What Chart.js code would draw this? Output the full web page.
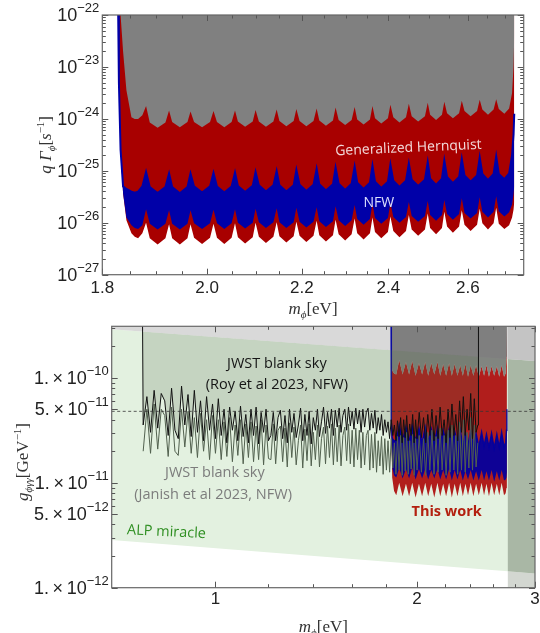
<!DOCTYPE html>
<html>
<head>
<meta charset="utf-8">
<script src="https://cdn.jsdelivr.net/npm/chart.js@4.4.1/dist/chart.umd.min.js"></script>
<style>
    body { margin: 0; background: #fff; }
    #wrap { position: relative; width: 540px; height: 633px; overflow: hidden; }
    canvas { position: absolute; left: 0; }
    #decayChart { top: 0; }
    #couplingChart { top: 312px; }
</style>
</head>
<body>
<div id="wrap">
    <canvas id="decayChart" width="540" height="325"></canvas>
    <canvas id="couplingChart" width="540" height="321"></canvas>
</div>
<script>
// ---- Upper panel: q*Gamma bounds (log10 values), masses in eV ----
const decayMass = [
    1.829, 1.8303, 1.8334, 1.838, 1.8442, 1.8535, 1.8597, 1.866, 1.874,
    1.881, 1.888, 1.903, 1.918,  1.925, 1.931, 1.946, 1.961,  1.967, 1.974, 1.990, 2.006,
    2.013, 2.020, 2.035, 2.050,  2.057, 2.063, 2.078, 2.094,  2.100, 2.107, 2.122, 2.138,
    2.145, 2.151, 2.166, 2.182,  2.188, 2.195, 2.210, 2.226,  2.233, 2.239, 2.254, 2.270,
    2.276, 2.283, 2.298, 2.313,  2.320, 2.326, 2.341, 2.356,  2.362, 2.368, 2.383, 2.399,
    2.405, 2.412, 2.427, 2.443,  2.450, 2.457, 2.473, 2.490,  2.497, 2.503, 2.518, 2.533,
    2.539, 2.546, 2.561, 2.577,  2.584, 2.591, 2.607, 2.624,  2.631, 2.638, 2.653, 2.668,
    2.675,
    2.682, 2.697, 2.710, 2.718, 2.722, 2.724
];
const decayGrayEdge = [
    -22.0, -22.0, -22.0, -22.7, -23.45, -23.97, -24.0, -24.0, -23.93,
    -23.75, -24.07, -24.17, -24.07,  -23.84, -24.06, -24.16, -24.06,  -23.86, -24.06, -24.16, -24.06,
    -23.85, -24.06, -24.16, -24.06,  -23.84, -24.05, -24.15, -24.05,  -23.83, -24.05, -24.15, -24.05,
    -23.82, -24.04, -24.14, -24.04,  -23.81, -24.04, -24.14, -24.04,  -23.80, -24.03, -24.13, -24.03,
    -23.78, -24.02, -24.12, -24.02,  -23.77, -24.01, -24.11, -24.01,  -23.75, -23.99, -24.09, -23.99,
    -23.73, -23.97, -24.07, -23.97,  -23.71, -23.95, -24.05, -23.95,  -23.69, -23.92, -24.02, -23.92,
    -23.67, -23.89, -23.99, -23.89,  -23.65, -23.85, -23.95, -23.85,  -23.63, -23.82, -23.92, -23.82,
    -23.62,
    -23.81, -23.90, -23.80, -23.5, -23.0, -22.4
];
const decayBlueUpper = [
    -22.0, -23.3, -24.6, -25.3, -25.35, -25.4, -25.42, -25.4, -25.3,
    -25.02, -25.31, -25.43, -25.31,  -25.05, -25.31, -25.43, -25.31,  -25.05, -25.30, -25.42, -25.30,
    -25.04, -25.30, -25.42, -25.30,  -25.03, -25.29, -25.41, -25.29,  -25.02, -25.28, -25.40, -25.28,
    -25.00, -25.28, -25.40, -25.28,  -24.98, -25.27, -25.39, -25.27,  -24.96, -25.26, -25.38, -25.26,
    -24.94, -25.25, -25.37, -25.25,  -24.92, -25.23, -25.35, -25.23,  -24.90, -25.21, -25.33, -25.21,
    -24.88, -25.19, -25.31, -25.19,  -24.86, -25.17, -25.29, -25.17,  -24.83, -25.15, -25.27, -25.15,
    -24.80, -25.12, -25.24, -25.12,  -24.77, -25.09, -25.21, -25.09,  -24.74, -25.06, -25.18, -25.06,
    -24.72,
    -25.06, -25.16, -25.05, -24.7, -24.3, -23.9
];
const decayBlueLower = [
    -22.0, -23.3, -24.6, -25.43, -25.9, -26.05, -26.1, -26.12, -26.05,
    -25.74, -26.02, -26.13, -26.02,  -25.76, -26.02, -26.13, -26.02,  -25.76, -26.01, -26.12, -26.01,
    -25.75, -26.01, -26.12, -26.01,  -25.74, -26.00, -26.11, -26.00,  -25.73, -25.99, -26.10, -25.99,
    -25.72, -25.99, -26.10, -25.99,  -25.71, -25.98, -26.09, -25.98,  -25.70, -25.97, -26.08, -25.97,
    -25.68, -25.95, -26.06, -25.95,  -25.66, -25.93, -26.04, -25.93,  -25.64, -25.91, -26.02, -25.91,
    -25.62, -25.89, -26.00, -25.89,  -25.60, -25.87, -25.98, -25.87,  -25.58, -25.85, -25.96, -25.85,
    -25.56, -25.83, -25.94, -25.83,  -25.53, -25.81, -25.92, -25.81,  -25.51, -25.79, -25.90, -25.79,
    -25.49,
    -25.78, -25.88, -25.80, -25.65, -25.45, -25.3
];
const decayRedLower = [
    -22.0, -23.3, -24.6, -25.43, -25.95, -26.2, -26.27, -26.3, -26.2,
    -26.00, -26.30, -26.42, -26.30,  -26.03, -26.30, -26.42, -26.30,  -26.03, -26.29, -26.41, -26.29,
    -26.02, -26.29, -26.41, -26.29,  -26.01, -26.28, -26.40, -26.28,  -26.00, -26.27, -26.39, -26.27,
    -25.99, -26.26, -26.38, -26.26,  -25.98, -26.25, -26.37, -26.25,  -25.96, -26.24, -26.36, -26.24,
    -25.94, -26.22, -26.34, -26.22,  -25.92, -26.20, -26.32, -26.20,  -25.90, -26.18, -26.30, -26.18,
    -25.88, -26.16, -26.28, -26.16,  -25.85, -26.13, -26.25, -26.13,  -25.82, -26.10, -26.22, -26.10,
    -25.79, -26.07, -26.19, -26.07,  -25.76, -26.04, -26.16, -26.04,  -25.73, -26.01, -26.13, -26.01,
    -25.71,
    -26.02, -26.12, -26.05, -25.9, -25.75, -25.6
];

// ---- Lower panel: coupling bounds (log10 g in GeV^-1) ----
const couplingMass = [
    1.829, 1.8305, 1.836, 1.848, 1.862,
    1.881, 1.903, 1.925, 1.946, 1.967, 1.990, 2.013, 2.035, 2.057, 2.078, 2.100, 2.122, 2.145,
    2.166, 2.188, 2.210, 2.233, 2.254, 2.276, 2.298, 2.320, 2.341, 2.362, 2.383, 2.405, 2.427,
    2.450, 2.473, 2.497, 2.518, 2.539, 2.561, 2.584, 2.607, 2.631, 2.653, 2.675,
    2.697, 2.712, 2.720, 2.724
];
const couplingGrayEdge = [
    -9.3, -9.8, -9.93, -9.96, -9.97,
    -9.83, -9.97, -9.85, -9.97, -9.84, -9.98, -9.86, -9.97, -9.85, -9.98, -9.86, -9.97, -9.85,
    -9.98, -9.87, -9.98, -9.86, -9.98, -9.87, -9.98, -9.88, -9.98, -9.87, -9.99, -9.88, -9.98,
    -9.88, -9.99, -9.89, -9.98, -9.88, -9.99, -9.89, -9.98, -9.89, -9.99, -9.88,
    -9.99, -9.96, -9.8, -9.5
];
const couplingBlueUpper = [
    -9.3, -10.4, -10.58, -10.6, -10.6,
    -10.45, -10.60, -10.47, -10.61, -10.46, -10.60, -10.48, -10.62, -10.47, -10.61, -10.49, -10.62, -10.48,
    -10.63, -10.50, -10.62, -10.49, -10.64, -10.51, -10.63, -10.50, -10.65, -10.52, -10.64, -10.51, -10.65,
    -10.53, -10.66, -10.52, -10.65, -10.54, -10.66, -10.53, -10.67, -10.54, -10.66, -10.52,
    -10.66, -10.62, -10.5, -10.3
];
const couplingBlueLower = [
    -9.3, -10.4, -10.85, -10.93, -10.95,
    -10.86, -10.96, -10.87, -10.96, -10.86, -10.97, -10.87, -10.96, -10.87, -10.97, -10.88, -10.96, -10.87,
    -10.97, -10.88, -10.97, -10.87, -10.98, -10.88, -10.97, -10.88, -10.98, -10.89, -10.97, -10.88, -10.98,
    -10.89, -10.98, -10.88, -10.98, -10.89, -10.98, -10.88, -10.99, -10.89, -10.98, -10.88,
    -10.98, -10.97, -10.95, -10.9
];
const couplingRedLower = [
    -9.3, -10.5, -10.95, -11.08, -11.12,
    -11.00, -11.13, -11.01, -11.13, -11.00, -11.14, -11.01, -11.13, -11.00, -11.13, -11.01, -11.14, -11.00,
    -11.13, -11.01, -11.13, -11.00, -11.14, -11.01, -11.13, -11.00, -11.13, -11.01, -11.12, -11.00, -11.13,
    -11.01, -11.12, -11.00, -11.12, -11.01, -11.13, -11.00, -11.12, -11.01, -11.12, -11.00,
    -11.12, -11.1, -11.05, -11.0
];

// JWST blank sky limits (log10 g)
const jwstMass = [
    0.78, 0.79, 0.80, 0.81, 0.82, 0.83, 0.84, 0.85, 0.86, 0.87, 0.88, 0.89, 0.90, 0.91, 0.92,
    0.93, 0.94, 0.95, 0.96, 0.97, 0.98, 0.99, 1.00,
    1.01, 1.02, 1.03, 1.04, 1.05, 1.06, 1.07, 1.08, 1.09, 1.10,
    1.11, 1.12, 1.13, 1.14, 1.15, 1.16, 1.17, 1.18, 1.19, 1.20,
    1.21, 1.22, 1.23, 1.24, 1.25, 1.26, 1.27, 1.28, 1.29, 1.30,
    1.31, 1.32, 1.33, 1.34, 1.35, 1.36, 1.37, 1.38, 1.39, 1.40,
    1.41, 1.42, 1.43, 1.44, 1.45, 1.46, 1.47, 1.48, 1.49, 1.50,
    1.51, 1.52, 1.53, 1.54, 1.55, 1.56, 1.57, 1.58, 1.59, 1.60,
    1.61, 1.62, 1.63, 1.64, 1.65, 1.66, 1.67, 1.68, 1.69, 1.70,
    1.71, 1.72, 1.73, 1.74, 1.75, 1.76, 1.77, 1.78, 1.79, 1.80,
    1.81, 1.82, 1.83, 1.84, 1.85, 1.86, 1.87, 1.88, 1.89, 1.90,
    1.91, 1.92, 1.93, 1.94, 1.95, 1.96, 1.97, 1.98, 1.99, 2.00,
    2.015, 2.03, 2.045, 2.06, 2.075, 2.09, 2.105, 2.12, 2.135, 2.15,
    2.165, 2.18, 2.195, 2.21, 2.225, 2.24, 2.255, 2.27, 2.285, 2.30,
    2.315, 2.33, 2.345, 2.36, 2.375, 2.39, 2.405, 2.42, 2.435, 2.45, 2.465
];
const royLogG = [
    -10.45, -10.18, -10.52, -10.12, -10.48, -10.15, -10.22, -10.55, -10.10, -10.50, -10.58, -10.08, -10.45, -10.16, -10.56,
    -10.12, -10.52, -10.22, -10.60, -10.18, -10.50, -10.25, -10.58,
    -10.20, -10.55, -10.30, -10.62, -10.28, -10.50, -10.32, -10.60, -10.27, -10.56,
    -10.35, -10.62, -10.30, -10.55, -10.28, -10.63, -10.33, -10.52, -10.30, -10.60,
    -10.55, -10.33, -10.60, -10.38, -10.31, -10.58, -10.36, -10.62, -10.30, -10.52,
    -10.34, -10.57, -10.45, -10.29, -10.60, -10.35, -10.55, -10.32, -10.63, -10.38,
    -10.50, -10.30, -10.56, -10.42, -10.28, -10.53, -10.33, -10.48, -10.30, -10.55,
    -10.31, -10.47, -10.29, -10.52, -10.36, -10.30, -10.50, -10.28, -10.46, -10.32,
    -10.49, -10.29, -10.44, -10.31, -10.52, -10.30, -10.47, -10.33, -10.29, -10.50,
    -10.34, -10.48, -10.31, -10.53, -10.38, -10.50, -10.35, -10.55, -10.40, -10.52,
    -10.42, -10.58, -10.40, -10.55, -10.45, -10.60, -10.41, -10.56, -10.38, -10.62,
    -10.40, -10.57, -10.36, -10.60, -10.44, -10.55, -10.35, -10.62, -10.40, -10.58,
    -10.33, -10.57, -10.38, -10.62, -10.35, -10.55, -10.30, -10.60, -10.36, -10.58,
    -10.28, -10.55, -10.40, -10.62, -10.30, -10.57, -10.25, -10.55, -10.35, -10.60,
    -10.22, -10.52, -10.18, -10.55, -10.30, -10.50, -10.15, -10.58, -10.20, -10.52, -10.45
];
const janishLogG = [
    -10.70, -10.30, -10.72, -10.25, -10.68, -10.30, -10.36, -10.75, -10.28, -10.70, -10.74, -10.30, -10.66, -10.32, -10.72,
    -10.38, -10.76, -10.34, -10.70, -10.40, -10.78, -10.36, -10.72,
    -10.40, -10.78, -10.42, -10.75, -10.38, -10.80, -10.45, -10.74, -10.40, -10.82,
    -10.44, -10.76, -10.42, -10.80, -10.46, -10.78, -10.40, -10.83, -10.45, -10.77,
    -10.78, -10.44, -10.82, -10.50, -10.46, -10.80, -10.48, -10.85, -10.43, -10.76,
    -10.47, -10.83, -10.60, -10.45, -10.86, -10.49, -10.79, -10.44, -10.84, -10.52,
    -10.78, -10.45, -10.85, -10.58, -10.47, -10.82, -10.46, -10.76, -10.44, -10.83,
    -10.48, -10.80, -10.45, -10.84, -10.55, -10.47, -10.79, -10.44, -10.82, -10.50,
    -10.85, -10.48, -10.78, -10.50, -10.86, -10.52, -10.83, -10.55, -10.50, -10.88,
    -10.54, -10.86, -10.52, -10.90, -10.60, -10.84, -10.56, -10.92, -10.58, -10.88,
    -10.60, -10.90, -10.58, -10.86, -10.62, -10.92, -10.56, -10.88, -10.55, -10.93,
    -10.57, -10.89, -10.52, -10.92, -10.60, -10.87, -10.54, -10.93, -10.58, -10.88,
    -10.55, -10.90, -10.58, -10.93, -10.52, -10.88, -10.50, -10.92, -10.56, -10.90,
    -10.48, -10.88, -10.55, -10.93, -10.50, -10.90, -10.45, -10.88, -10.55, -10.92,
    -10.42, -10.88, -10.40, -10.90, -10.52, -10.86, -10.38, -10.88, -10.45, -10.85, -10.62
];
const royEdgeMass = [0.778, 2.47];   // vertical ends of the Roy et al curve
const royEdgeLogG = -9.3;

// ALP miracle band edges and the grey region above it
const alpMass = [0.70, 2.73, 3.00];
const alpUpperLogG = [-9.537, -9.821, -9.841];
const alpLowerLogG = [-11.546, -11.844, -11.865];
const refLogG = -10.32;              // dashed reference level

// ticks
const decayXTicks = [1.8, 2.0, 2.2, 2.4, 2.6];
const decayXMinor = [1.85, 1.9, 1.95, 2.05, 2.1, 2.15, 2.25, 2.3, 2.35, 2.45, 2.5, 2.55, 2.65, 2.7];
const decayYExps = [-27, -26, -25, -24, -23, -22];
const couplingXTicks = [1, 2, 3];
const couplingXMinor = [1.2, 1.4, 1.6, 1.8, 2.2, 2.4, 2.6, 2.8];
const couplingYMantissas = [1, 5, 1, 5, 1];
const couplingYExps = [-12, -12, -11, -11, -10];

// ---- helpers ----
const SANS = '"Liberation Sans", Arial, sans-serif';
const SERIF = '"Liberation Serif", "DejaVu Serif", serif';
const NOTE = '"Open Sans", "Noto Sans", sans-serif';

function toPoints(masses, logs) {
    return masses.map((m, i) => ({ x: m, y: Math.pow(10, logs[i]) }));
}

function minorDecades(fromExp, toExp, maxVal) {
    const out = [];
    for (let e = fromExp; e <= toExp; e++) {
        for (let k = 2; k <= 9; k++) {
            const v = k * Math.pow(10, e);
            if (v < maxVal) out.push(v);
        }
    }
    return out;
}

function strokeTicks(chart, axis, values, len) {
    const { ctx, chartArea: a } = chart;
    const scale = chart.scales[axis];
    ctx.beginPath();
    values.forEach(v => {
        const p = Math.round(scale.getPixelForValue(v)) + 0.5;
        if (axis === 'x') {
            ctx.moveTo(p, a.bottom); ctx.lineTo(p, a.bottom - len);
            ctx.moveTo(p, a.top); ctx.lineTo(p, a.top + len);
        } else {
            ctx.moveTo(a.left, p); ctx.lineTo(a.left + len, p);
            ctx.moveTo(a.right, p); ctx.lineTo(a.right - len, p);
        }
    });
    ctx.stroke();
}

function drawFrame(chart, xMajor, xMinor, yMajor, yMinor) {
    const { ctx, chartArea: a } = chart;
    ctx.save();
    ctx.strokeStyle = '#555';
    ctx.lineWidth = 1;
    strokeTicks(chart, 'x', xMajor, 6);
    strokeTicks(chart, 'x', xMinor, 3.5);
    strokeTicks(chart, 'y', yMajor, 6);
    strokeTicks(chart, 'y', yMinor, 3.5);
    ctx.strokeStyle = '#666';
    ctx.lineWidth = 1.2;
    ctx.strokeRect(a.left, a.top, a.right - a.left, a.bottom - a.top);
    ctx.restore();
}

function drawPower(ctx, base, sup, xRight, yMid, size, supSize) {
    ctx.save();
    ctx.textAlign = 'left';
    ctx.textBaseline = 'middle';
    ctx.fillStyle = '#222';
    ctx.font = supSize + 'px ' + SANS;
    const ws = ctx.measureText(sup).width;
    ctx.font = size + 'px ' + SANS;
    const wb = ctx.measureText(base).width;
    ctx.fillText(base, xRight - ws - wb, yMid);
    ctx.font = supSize + 'px ' + SANS;
    ctx.fillText(sup, xRight - ws, yMid - size * 0.42);
    ctx.restore();
}

function drawRich(ctx, parts, cx, cy, angle) {
    ctx.save();
    ctx.translate(cx, cy);
    ctx.rotate(angle || 0);
    ctx.textBaseline = 'alphabetic';
    ctx.textAlign = 'left';
    let total = 0;
    parts.forEach(p => { ctx.font = p.font; p.w = ctx.measureText(p.text).width; total += p.w; });
    let x = -total / 2;
    parts.forEach(p => {
        ctx.font = p.font;
        ctx.fillStyle = p.color || '#333';
        ctx.fillText(p.text, x, p.dy || 0);
        x += p.w;
    });
    ctx.restore();
}

function drawNote(chart, note) {
    const { ctx, scales: { x, y } } = chart;
    ctx.save();
    ctx.translate(x.getPixelForValue(note.m), y.getPixelForValue(Math.pow(10, note.logv)));
    ctx.rotate(note.angle || 0);
    ctx.font = note.font;
    ctx.fillStyle = note.color;
    ctx.textAlign = 'center';
    ctx.textBaseline = 'middle';
    ctx.fillText(note.text, 0, 0);
    ctx.restore();
}

function massTitle(chart, baseline) {
    const a = chart.chartArea;
    drawRich(chart.ctx, [
        { text: 'm', font: 'italic 17px ' + SERIF },
        { text: 'ϕ', font: 'italic 11px ' + SERIF, dy: 4 },
        { text: '[eV]', font: '17px ' + SERIF }
    ], (a.left + a.right) / 2, baseline);
}

const decayNotes = [
    { text: 'Generalized Hernquist', m: 2.449, logv: -24.56, angle: -0.044, font: '14px ' + NOTE, color: '#f3d8d8' },
    { text: 'NFW', m: 2.377, logv: -25.62, font: '14px ' + NOTE, color: '#dde1ff' }
];
const couplingNotes = [
    { text: 'JWST blank sky', m: 1.235, logv: -9.870, font: '14.5px ' + NOTE, color: '#151515' },
    { text: '(Roy et al 2023, NFW)', m: 1.235, logv: -10.070, font: '14.5px ' + NOTE, color: '#151515' },
    { text: 'JWST blank sky', m: 0.998, logv: -10.910, font: '14.5px ' + NOTE, color: '#7c7c7c' },
    { text: '(Janish et al 2023, NFW)', m: 0.992, logv: -11.117, font: '14.5px ' + NOTE, color: '#7c7c7c' },
    { text: 'ALP miracle', m: 0.845, logv: -11.47, angle: 0.05, font: '14.5px ' + NOTE, color: '#2f8f22' },
    { text: 'This work', m: 2.214, logv: -11.276, font: 'bold 14.5px ' + NOTE, color: '#b3200f' }
];

const decayDecor = {
    id: 'decayDecor',
    afterDraw(chart) {
        const { ctx, chartArea: a, scales: { x, y } } = chart;
        decayNotes.forEach(n => drawNote(chart, n));
        drawFrame(chart, decayXTicks, decayXMinor,
            decayYExps.map(e => Math.pow(10, e)), minorDecades(-27, -23, 1e-22));
        ctx.save();
        ctx.fillStyle = '#222';
        ctx.font = '17px ' + SANS;
        ctx.textAlign = 'center';
        ctx.textBaseline = 'middle';
        decayXTicks.forEach(v => ctx.fillText(v.toFixed(1), x.getPixelForValue(v), a.bottom + 14));
        ctx.restore();
        decayYExps.forEach(e => drawPower(ctx, '10', '−' + (-e), a.left - 3,
            y.getPixelForValue(Math.pow(10, e)) + 1, 18, 13));
        massTitle(chart, a.bottom + 39);
        drawRich(ctx, [
            { text: 'q Γ', font: 'italic 17px ' + SERIF },
            { text: 'ϕ', font: 'italic 11px ' + SERIF, dy: 4 },
            { text: '[', font: '17px ' + SERIF },
            { text: 's', font: 'italic 17px ' + SERIF },
            { text: '−1', font: '11px ' + SERIF, dy: -7 },
            { text: ']', font: '17px ' + SERIF }
        ], 51, (a.top + a.bottom) / 2, -Math.PI / 2);
    }
};

const couplingDecor = {
    id: 'couplingDecor',
    afterDraw(chart) {
        const { ctx, chartArea: a, scales: { x, y } } = chart;
        couplingNotes.forEach(n => drawNote(chart, n));
        drawFrame(chart, couplingXTicks, couplingXMinor,
            couplingYMantissas.map((m, i) => m * Math.pow(10, couplingYExps[i])),
            minorDecades(-12, -10, 3.1e-10).filter(v => !/^5/.test(v.toPrecision(1))));
        ctx.save();
        ctx.fillStyle = '#222';
        ctx.font = '17px ' + SANS;
        ctx.textAlign = 'center';
        ctx.textBaseline = 'middle';
        couplingXTicks.forEach(v => ctx.fillText(String(v), x.getPixelForValue(v), a.bottom + 12));
        ctx.restore();
        couplingYMantissas.forEach((m, i) => {
            const v = m * Math.pow(10, couplingYExps[i]);
            drawPower(ctx, m + '.\u2009×\u200910', '−' + (-couplingYExps[i]), a.left - 3,
                y.getPixelForValue(v) + 1, 18, 13);
        });
        massTitle(chart, a.bottom + 44);
        drawRich(ctx, [
            { text: 'g', font: 'italic 17px ' + SERIF },
            { text: 'ϕγγ', font: 'italic 11px ' + SERIF, dy: 4 },
            { text: '[GeV', font: '17px ' + SERIF },
            { text: '−1', font: '11px ' + SERIF, dy: -7 },
            { text: ']', font: '17px ' + SERIF }
        ], 28, 150, -Math.PI / 2);
    }
};

const baseOptions = {
    responsive: false,
    animation: false,
    events: [],
    elements: { point: { radius: 0 }, line: { tension: 0 } },
    plugins: { legend: { display: false }, tooltip: { enabled: false } }
};

function area(data, color, fill, extra) {
    return Object.assign({ data: data, borderColor: 'transparent', borderWidth: 1, backgroundColor: color, fill: fill }, extra || {});
}

// Upper panel
const DARK_GRAY = '#808080', DARK_RED = '#a80000', DARK_BLUE = '#0000a8';
new Chart(document.getElementById('decayChart'), {
    type: 'line',
    data: {
        datasets: [
            area(toPoints(decayMass, decayBlueUpper), DARK_BLUE, 1, { borderColor: DARK_BLUE, borderWidth: 2 }),
            area(toPoints(decayMass, decayBlueLower), 'transparent', false),
            area(toPoints(decayMass, decayGrayEdge), DARK_GRAY, 'end'),
            area(toPoints(decayMass, decayRedLower), DARK_RED, 'end')
        ]
    },
    options: Object.assign({}, baseOptions, {
        layout: { padding: { left: 102.3, right: 16.3, top: 15, bottom: 50.3 } },
        scales: {
            x: { type: 'logarithmic', min: 1.8, max: 2.75, display: false },
            y: { type: 'logarithmic', min: 1e-27, max: 1e-22, display: false }
        }
    }),
    plugins: [decayDecor]
});

// Lower panel
const JWST_SHADE = 'rgba(82,102,70,0.2)';
const refLine = [{ x: alpMass[0], y: Math.pow(10, refLogG) }, { x: alpMass[2], y: Math.pow(10, refLogG) }];
const royPoints = [{ x: royEdgeMass[0], y: Math.pow(10, royEdgeLogG) }]
    .concat(toPoints(jwstMass, royLogG))
    .concat([{ x: royEdgeMass[1], y: Math.pow(10, royLogG[royLogG.length - 1]) },
             { x: royEdgeMass[1], y: Math.pow(10, royEdgeLogG) }]);

new Chart(document.getElementById('couplingChart'), {
    type: 'line',
    data: {
        datasets: [
            /* 0 */ { data: refLine, borderColor: '#333', borderWidth: 0.8, borderDash: [3, 2.5], fill: false },
            /* 1 */ { data: royPoints, borderColor: '#111', borderWidth: 1, backgroundColor: JWST_SHADE,
                      fill: { target: 10, above: JWST_SHADE, below: JWST_SHADE } },
            /* 2 */ { data: toPoints(jwstMass, janishLogG), borderColor: '#52614f', borderWidth: 1, fill: false },
            /* 3 */ area(toPoints(alpMass.slice(1), alpUpperLogG.slice(1)), '#c4c4c4', 'end'),
            /* 4 */ area(toPoints(alpMass.slice(1), alpUpperLogG.slice(1)), '#a9b7a5', 5),
            /* 5 */ area(toPoints(alpMass.slice(1), alpLowerLogG.slice(1)), '#d3d7d1', 'start'),
            /* 6 */ area(toPoints(couplingMass, couplingBlueUpper), 'rgba(0,0,160,0.92)', 7,
                         { borderColor: 'rgba(0,0,160,0.92)', borderWidth: 1.5 }),
            /* 7 */ area(toPoints(couplingMass, couplingBlueLower), 'transparent', false),
            /* 8 */ area(toPoints(couplingMass, couplingGrayEdge), 'rgba(96,96,96,0.75)', 'end'),
            /* 9 */ area(toPoints(couplingMass, couplingRedLower), 'rgba(170,0,0,0.88)', 8),
            /* 10 */ area(toPoints(alpMass, alpUpperLogG), '#d9d9d9', 'end'),
            /* 11 */ area(toPoints(alpMass, alpLowerLogG), '#e3f1e0', 10)
        ]
    },
    options: Object.assign({}, baseOptions, {
        layout: { padding: { left: 111.7, right: 5, top: 14.3, bottom: 45.3 } },
        scales: {
            x: { type: 'logarithmic', min: 0.7, max: 3.0, display: false },
            y: { type: 'logarithmic', min: 1e-12, max: 3.09e-10, display: false }
        }
    }),
    plugins: [couplingDecor]
});
</script>
</body>
</html>
